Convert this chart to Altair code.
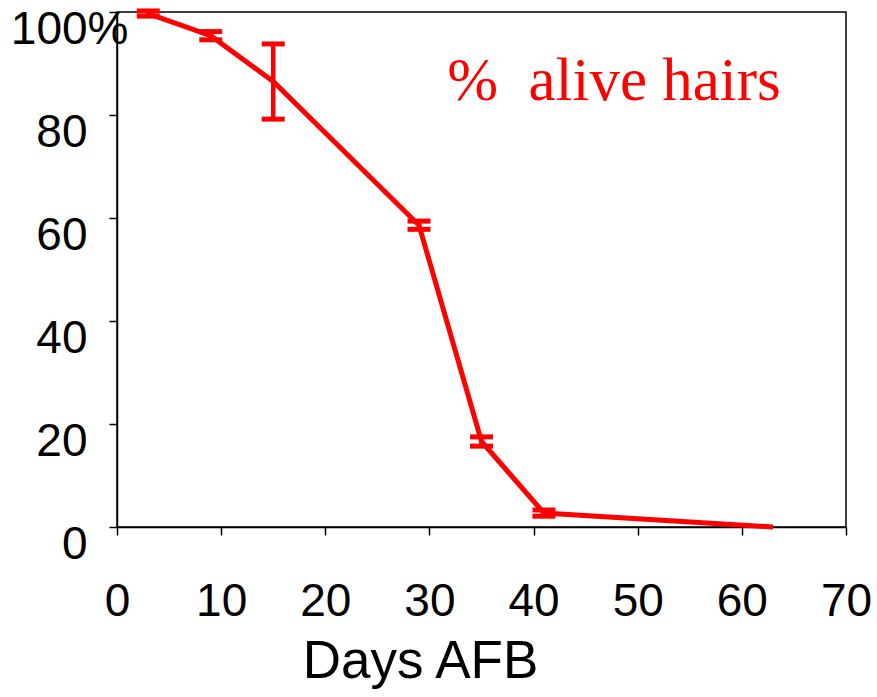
import altair as alt
import pandas as pd

days = [3, 9, 15, 29, 35, 41, 63]
alive = [99.7, 95.4, 86.5, 58.6, 16.6, 2.7, 0.0]
err = [0.5, 0.8, 7.3, 0.8, 0.9, 0.6, 0.0]

x_ticks = [0, 10, 20, 30, 40, 50, 60, 70]
y_ticks = [0, 20, 40, 60, 80, 100]

label_text = ["%\u00a0 alive hairs"]
label_x = [31.7]
label_y = [82.9]

df = pd.DataFrame({"days": days, "alive": alive, "err": err})
df["lo"] = df["alive"] - df["err"]
df["hi"] = df["alive"] + df["err"]
eb = df[df["err"] > 0]

lab = pd.DataFrame({"t": label_text, "x": label_x, "y": label_y})

RED = "#ff0000"

xs = alt.Scale(domain=[0, 70], nice=False, zero=False)
ys = alt.Scale(domain=[0, 100], nice=False)

x_axis = alt.Axis(
    values=x_ticks, grid=False, title="Days AFB",
    labelFont="Liberation Sans", labelFontSize=46, labelColor="black",
    labelBaseline="alphabetic", labelPadding=80, labelFlush=False,
    tickSize=8, tickColor="black", tickWidth=1.5,
    domainColor="black", domainWidth=1.5,
    titleFont="Liberation Sans", titleFontSize=53, titleFontWeight="normal",
    titleColor="black", titleX=303, titleY=150, titleAlign="center",
    titleBaseline="alphabetic",
)
y_axis = alt.Axis(
    values=y_ticks, grid=False, title=None,
    labelExpr="datum.value == 100 ? '100%' : datum.label",
    labelFont="Liberation Sans", labelFontSize=46, labelColor="black",
    labelBaseline="alphabetic", labelOffset=31, labelFlush=False,
    labelPadding={"condition": {"test": "datum.value == 100", "value": -19}, "value": 22},
    tickSize=8, tickColor="black", tickWidth=1.5,
    domainColor="black", domainWidth=1.5,
)

base = alt.Chart(df)

line = base.mark_line(color=RED, strokeWidth=5).encode(
    x=alt.X("days:Q", scale=xs, axis=x_axis),
    y=alt.Y("alive:Q", scale=ys, axis=y_axis),
)

rules = alt.Chart(eb).mark_rule(color=RED, strokeWidth=4.5, opacity=1).encode(
    x="days:Q", y="lo:Q", y2="hi:Q"
)
caps_lo = alt.Chart(eb).mark_tick(color=RED, size=23, thickness=5, opacity=1, orient="horizontal").encode(
    x="days:Q", y="lo:Q"
)
caps_hi = alt.Chart(eb).mark_tick(color=RED, size=23, thickness=5, opacity=1, orient="horizontal").encode(
    x="days:Q", y="hi:Q"
)

text = alt.Chart(lab).mark_text(
    font="Liberation Serif", fontSize=61, color=RED, align="left", baseline="alphabetic"
).encode(x="x:Q", y="y:Q", text="t:N")

chart = alt.layer(line, rules, caps_lo, caps_hi, text).properties(
    width=729, height=515,
    autosize="none",
    padding={"left": 117, "top": 12, "right": 31, "bottom": 170},
    background="white",
).configure_view(stroke="black", strokeWidth=1.5)

chart.save("out.html", embed_options={"renderer": "svg", "actions": False})
